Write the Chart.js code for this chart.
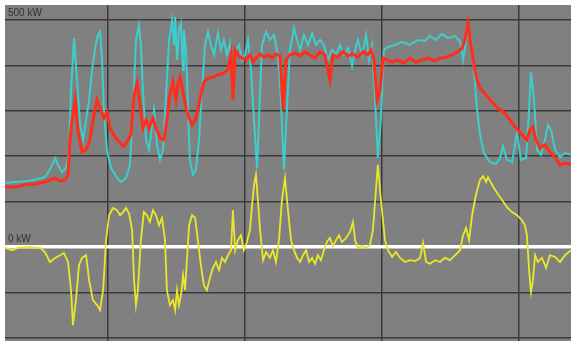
<!DOCTYPE html>
<html>
<head>
<meta charset="utf-8">
<script src="https://cdn.jsdelivr.net/npm/chart.js@4/dist/chart.umd.min.js"></script>
<style>
  html, body { margin: 0; padding: 0; background: #fff; }
  #wrap { width: 571px; height: 341px; }
</style>
</head>
<body>
<div id="wrap"><canvas id="power"></canvas></div>
<script>
// time axis (arbitrary units), grid every 50
const timeTicks = [50, 100, 150, 200];
// kW grid lines
const kwTicks = [-200, -100, 0, 100, 200, 300, 400, 500];

// cyan trace
const cyanT = [12.4, 16.1, 19.7, 23.4, 27.0, 28.8, 30.7, 31.7, 33.2, 34.7, 35.8, 36.5, 37.6, 38.7, 39.8, 40.9, 42.0, 43.1, 44.2, 45.3,
  46.3, 47.1, 47.8, 48.5, 49.6, 51.1, 52.9, 54.7, 56.6, 58.0, 59.1, 60.2, 61.3, 62.0, 62.8, 63.9, 65.0, 66.1, 66.8, 67.9,
  69.0, 70.1, 71.2, 72.3, 73.4, 74.1, 74.5, 75.2, 75.9, 76.6, 77.4, 77.7, 78.5, 79.2, 79.9, 81.0, 82.1, 83.2, 84.3, 85.4,
  86.5, 87.6, 88.7, 90.1, 91.2, 92.3, 93.4, 94.5, 95.6, 96.7, 97.8, 98.9, 100.0, 101.1, 102.2, 103.3, 104.4, 105.1, 106.2, 107.7,
  109.1, 110.6, 112.0, 113.1, 114.2, 115.3, 116.4, 117.9, 119.0, 120.1, 121.5, 123.0, 124.5, 125.9, 127.4, 128.8, 130.3, 131.8, 133.2, 134.7,
  136.1, 137.6, 139.1, 140.2, 141.2, 142.7, 144.2, 145.3, 146.4, 147.5, 148.5, 149.6, 150.7, 152.2, 154.8, 157.3, 160.2, 163.1, 165.7, 167.5,
  169.7, 171.9, 174.1, 176.7, 178.5, 179.6, 180.7, 181.4, 182.5, 183.6, 184.7, 185.8, 187.2, 189.4, 191.6, 193.1, 194.2, 195.6, 197.5, 199.3,
  200.7, 202.6, 203.7, 204.4, 205.5, 206.6, 208.0, 209.5, 210.6, 211.7, 213.2, 215.0, 216.8, 219.0];
const cyanKW = [141, 143, 145, 148, 154, 170, 196, 181, 165, 174, 214, 346, 460, 368, 269, 236, 280, 324, 390, 438,
  467, 474, 412, 302, 214, 174, 156, 143, 152, 181, 302, 456, 489, 445, 335, 236, 214, 269, 302, 225,
  192, 214, 335, 456, 500, 445, 507, 412, 478, 493, 390, 478, 434, 302, 192, 159, 170, 236, 346, 445,
  474, 445, 423, 471, 434, 456, 423, 449, 357, 434, 445, 412, 423, 456, 390, 280, 174, 280, 445, 474,
  456, 467, 423, 324, 170, 302, 434, 482, 456, 434, 467, 445, 471, 445, 456, 445, 412, 434, 423, 445,
  423, 438, 399, 434, 456, 423, 467, 412, 445, 324, 196, 280, 434, 441, 445, 452, 445, 456, 454, 465,
  456, 469, 460, 465, 452, 412, 456, 487, 456, 390, 302, 247, 207, 187, 183, 196, 222, 192, 187, 253,
  192, 196, 302, 385, 324, 214, 203, 236, 269, 258, 214, 198, 207, 203];

// red trace
const redT = [12.4, 16.1, 19.7, 23.4, 27.0, 28.8, 30.7, 32.5, 34.3, 35.4, 36.1, 36.9, 38.0, 39.0, 40.5, 42.0, 43.4, 44.9, 46.0, 47.1,
  48.5, 49.6, 50.7, 52.6, 54.4, 55.8, 57.3, 58.4, 59.5, 60.6, 61.7, 62.8, 63.9, 65.0, 66.4, 67.5, 69.0, 70.4, 71.5, 72.6,
  73.7, 74.8, 75.5, 76.3, 77.4, 78.5, 79.6, 80.7, 81.8, 82.8, 83.9, 85.0, 86.5, 88.3, 90.1, 92.0, 93.8, 94.9, 95.6, 96.4,
  97.4, 98.9, 100.4, 101.8, 102.9, 104.0, 105.5, 106.9, 108.4, 109.9, 111.3, 112.8, 113.9, 115.0, 116.4, 118.3, 120.1, 121.9, 123.7, 125.6,
  127.4, 129.2, 131.0, 132.1, 133.9, 135.8, 137.6, 139.4, 141.2, 143.1, 144.9, 146.0, 147.1, 148.2, 149.3, 150.4, 151.8, 153.7, 155.8, 158.0,
  160.2, 162.4, 164.6, 166.8, 169.0, 171.2, 173.4, 175.6, 177.7, 179.2, 180.3, 181.4, 182.5, 183.6, 184.7, 185.8, 188.0, 190.2, 192.3, 194.5,
  196.7, 198.9, 201.1, 202.9, 204.0, 205.1, 206.2, 207.7, 209.5, 211.3, 213.2, 215.0, 216.8, 219.0];
const redKW = [132, 132, 137, 139, 143, 148, 152, 145, 148, 159, 236, 280, 324, 258, 209, 214, 236, 291, 324, 306,
  284, 297, 262, 242, 229, 222, 236, 247, 335, 361, 313, 262, 280, 262, 284, 262, 240, 236, 280, 335,
  363, 324, 357, 374, 341, 306, 284, 269, 280, 302, 335, 363, 372, 374, 379, 383, 390, 423, 324, 434,
  423, 416, 412, 423, 407, 416, 425, 418, 423, 416, 425, 421, 302, 412, 423, 427, 421, 430, 423, 416,
  430, 423, 368, 423, 418, 430, 421, 425, 418, 430, 423, 434, 412, 324, 346, 416, 412, 407, 412, 405,
  416, 407, 412, 416, 410, 416, 418, 423, 430, 438, 456, 493, 445, 401, 368, 350, 335, 319, 306, 297,
  280, 262, 247, 236, 258, 264, 236, 218, 225, 209, 198, 181, 185, 181];

// yellow trace
const yellowT = [12.4, 15.0, 17.1, 21.5, 25.2, 27.0, 28.8, 30.7, 32.5, 33.9, 35.4, 36.5, 37.2, 38.3, 39.4, 40.5, 42.0, 43.1, 44.5, 46.0,
  47.1, 48.2, 49.3, 50.4, 51.8, 53.3, 54.4, 55.5, 56.6, 57.7, 58.8, 59.5, 60.2, 60.9, 62.0, 63.1, 64.2, 65.3, 66.4, 67.5,
  68.6, 69.7, 70.8, 71.5, 72.6, 73.7, 74.5, 75.2, 75.9, 76.6, 77.4, 78.1, 78.8, 79.6, 80.7, 81.8, 82.8, 83.9, 85.0, 86.1,
  87.2, 88.3, 89.4, 90.5, 91.6, 92.7, 93.8, 94.9, 95.6, 96.4, 97.4, 98.5, 99.6, 100.7, 101.8, 102.6, 103.3, 104.0, 104.7, 105.5,
  106.6, 107.7, 109.1, 110.2, 111.3, 112.4, 113.5, 114.6, 115.7, 116.8, 117.9, 119.0, 120.1, 121.2, 122.3, 123.4, 124.5, 125.6, 126.6, 127.7,
  128.8, 129.9, 131.0, 132.1, 133.2, 134.3, 135.4, 136.9, 138.3, 139.4, 140.2, 141.2, 142.7, 144.2, 145.6, 146.7, 147.8, 148.5, 149.3, 150.0,
  151.1, 152.2, 153.7, 155.1, 156.6, 158.4, 160.2, 162.1, 163.9, 165.0, 166.1, 167.5, 169.4, 171.2, 173.0, 174.8, 176.7, 178.5, 179.6, 180.7,
  181.8, 182.9, 184.3, 185.8, 186.9, 188.0, 188.7, 190.2, 192.0, 193.8, 195.6, 197.5, 199.3, 201.1, 202.2, 202.9, 203.7, 204.4, 205.1, 205.9,
  206.9, 208.4, 209.9, 211.3, 213.2, 215.0, 216.8, 219.0];
const yellowKW = [-2, -7, -2, 0, -2, -11, -33, -24, -18, -13, -33, -95, -172, -117, -40, -24, -18, -73, -117, -128,
  -139, -95, 15, 70, 86, 81, 70, 77, 86, 73, 37, -73, -128, -95, 15, 77, 70, 55, 81, 70,
  48, 64, 15, -95, -128, -117, -139, -95, -128, -108, -62, -95, -29, 48, 70, 64, 15, -40, -84, -95,
  -68, -46, -33, -51, -24, -33, -18, -7, 81, -7, 15, 26, -7, 11, 37, 93, 137, 159, 104, 37,
  -29, -11, -24, -7, -33, 15, 104, 152, 81, 15, -7, -24, -33, -18, -7, -33, -24, -37, -18, -29,
  -7, 11, 20, 2, 15, 26, 11, 20, 33, 55, 15, -2, 2, -2, 4, 37, 126, 181, 126, 81,
  15, -7, -22, -11, -24, -33, -29, -31, -24, 9, -33, -37, -29, -33, -24, -29, -18, -7, 26, 42,
  15, 70, 115, 148, 156, 143, 154, 137, 119, 104, 88, 77, 70, 59, 48, 26, -51, -99, -73, -18,
  -33, -24, -46, -18, -22, -33, -18, -7];

const pts = (ts, vs) => ts.map((t, i) => ({x: t, y: vs[i]}));

// gray plot background + kW labels
const plotBack = {
  id: 'plotBack',
  beforeDraw(chart) {
    const {ctx, chartArea: a} = chart;
    ctx.save();
    ctx.fillStyle = '#808080';
    ctx.fillRect(a.left, a.top, a.right - a.left, a.bottom - a.top);
    ctx.restore();
  },
  afterDraw(chart) {
    const {ctx, scales} = chart;
    ctx.save();
    ctx.fillStyle = '#2e2e2e';
    ctx.font = '10px "Liberation Sans", Arial, sans-serif';
    ctx.textBaseline = 'bottom';
    ctx.fillText('500 kW', scales.x.left + 3, scales.y.getPixelForValue(500) - 2);
    ctx.fillText('0 kW', scales.x.left + 3, scales.y.getPixelForValue(0) - 3);
    ctx.restore();
  }
};

new Chart(document.getElementById('power'), {
  type: 'line',
  data: {
    datasets: [
      {
        label: 'yellow',
        data: pts(yellowT, yellowKW),
        borderColor: 'rgb(232, 232, 40)',
        borderWidth: 1.8,
        order: 0,
      },
      {
        label: 'red',
        data: pts(redT, redKW),
        borderColor: 'rgb(255, 45, 25)',
        borderWidth: 3,
        order: 1,
      },
      {
        label: 'cyan',
        data: pts(cyanT, cyanKW),
        borderColor: 'rgb(60, 205, 205)',
        borderWidth: 2,
        order: 2,
      },
    ],
  },
  options: {
    responsive: true,
    maintainAspectRatio: false,
    animation: false,
    layout: {padding: {left: 5, top: 5, right: 0, bottom: 0}},
    elements: {
      point: {radius: 0},
      line: {tension: 0},
    },
    plugins: {
      legend: {display: false},
      tooltip: {enabled: false},
    },
    scales: {
      x: {
        type: 'linear',
        min: 12.4,
        max: 219,
        afterBuildTicks: (s) => { s.ticks = timeTicks.map(v => ({value: v})); },
        ticks: {display: false},
        border: {display: false},
        grid: {color: '#3a3a3a', lineWidth: 1.5, drawTicks: false},
      },
      y: {
        type: 'linear',
        min: -207,
        max: 533,
        afterBuildTicks: (s) => { s.ticks = kwTicks.map(v => ({value: v})); },
        ticks: {display: false},
        border: {display: false},
        grid: {
          color: (c) => c.tick && c.tick.value === 0 ? '#ffffff' : '#3a3a3a',
          lineWidth: (c) => c.tick && c.tick.value === 0 ? 3.5 : 1.5,
          drawTicks: false,
        },
      },
    },
  },
  plugins: [plotBack],
});
</script>
</body>
</html>
